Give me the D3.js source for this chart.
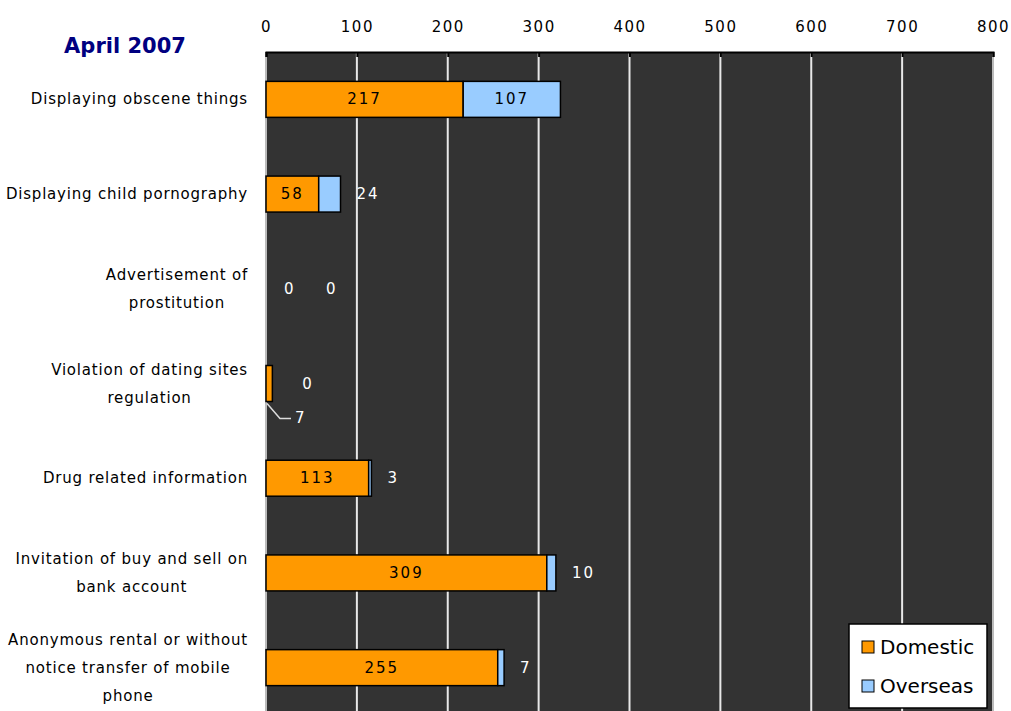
<!DOCTYPE html>
<html>
<head>
<meta charset="utf-8">
<script src="https://cdn.jsdelivr.net/npm/d3@7"></script>
<style>
body{margin:0;background:#fff}
svg text{font-family:"DejaVu Sans",sans-serif}
</style>
</head>
<body>
<div id="chart"></div>
<script>
let categories = [
    "Displaying obscene things",
    "Displaying child pornography",
    "Advertisement of\nprostitution",
    "Violation of dating sites\nregulation",
    "Drug related information",
    "Invitation of buy and sell on\nbank account",
    "Anonymous rental or without\nnotice transfer of mobile\nphone"
]
let domestic = [217, 58, 0, 7, 113, 309, 255]
let overseas = [107, 24, 0, 0, 3, 10, 7]
let xTicks = [0, 100, 200, 300, 400, 500, 600, 700, 800]
let seriesNames = ["Domestic", "Overseas"]
let colors = ["#ff9900", "#99ccff"]

function drawChart(){
    let W = 1011, H = 711
    let margin = {top: 52, left: 266, right: 18}
    let svg = d3.select('#chart').append('svg')
        .attr('width', W).attr('height', H)

    let scX = d3.scaleLinear().domain([0, 800]).range([margin.left, W - margin.right])
    let scY = d3.scaleBand().domain(categories)
        .range([margin.top, margin.top + 663])
        .paddingInner(0.62).paddingOuter(0.31)

    // plot background
    svg.append('rect')
        .attr('x', scX(0)).attr('y', margin.top)
        .attr('width', scX(800) - scX(0)).attr('height', H - margin.top + 5)
        .attr('fill', '#333333')

    // grid
    svg.append('g').selectAll('line')
        .data(xTicks.slice(1, -1))
        .enter().append('line')
        .attr('x1', d=>scX(d)).attr('x2', d=>scX(d))
        .attr('y1', margin.top).attr('y2', H)
        .attr('stroke', '#e8e8e8').attr('stroke-width', 2)

    // borders
    svg.append('line').attr('x1', scX(0)).attr('x2', scX(0))
        .attr('y1', margin.top).attr('y2', H)
        .attr('stroke', '#bbbbbb').attr('stroke-width', 2)
    svg.append('line').attr('x1', scX(800)).attr('x2', scX(800))
        .attr('y1', margin.top).attr('y2', H)
        .attr('stroke', '#bbbbbb').attr('stroke-width', 2)

    // top axis
    let axis = d3.axisTop(scX).tickValues(xTicks).tickSize(-5).tickPadding(20)
    let ax = svg.append('g')
        .attr('transform', `translate(0, ${margin.top})`)
        .call(axis)
    ax.select('.domain').attr('stroke', '#000').attr('stroke-width', 2)
    ax.selectAll('.tick line').attr('stroke', '#000').attr('stroke-width', 2)
    ax.selectAll('.tick text')
        .attr('font-size', '15px').attr('fill', '#000')
        .attr('letter-spacing', '1.5px')
        .attr('font-family', '"DejaVu Sans", sans-serif')

    // title
    svg.append('text')
        .attr('x', 125).attr('y', 53)
        .attr('text-anchor', 'middle')
        .attr('font-size', '21px').attr('font-weight', 'bold')
        .attr('fill', '#000080')
        .text('April 2007')

    // bars
    let bh = scY.bandwidth()
    let g = svg.append('g')
    categories.forEach((c, i)=>{
        let y = scY(c)
        if (domestic[i] > 0) {
            g.append('rect')
                .attr('x', scX(0)).attr('y', y)
                .attr('width', scX(domestic[i]) - scX(0)).attr('height', bh)
                .attr('fill', colors[0]).attr('stroke', '#000').attr('stroke-width', 1.5)
        }
        if (overseas[i] > 0) {
            g.append('rect')
                .attr('x', scX(domestic[i])).attr('y', y)
                .attr('width', scX(domestic[i] + overseas[i]) - scX(domestic[i])).attr('height', bh)
                .attr('fill', colors[1]).attr('stroke', '#000').attr('stroke-width', 1.5)
        }
    })

    // value labels
    let lab = svg.append('g').attr('font-size', '15px').attr('letter-spacing', '2px')
    categories.forEach((c, i)=>{
        let cy = scY(c) + bh / 2 + 5
        let dW = scX(domestic[i]) - scX(0)
        let oW = scX(domestic[i] + overseas[i]) - scX(domestic[i])
        let outX = scX(domestic[i] + overseas[i]) + 16
        if (dW > 30) {
            lab.append('text')
                .attr('x', scX(domestic[i] / 2)).attr('y', cy)
                .attr('text-anchor', 'middle').attr('fill', '#000')
                .text(domestic[i])
        } else if (domestic[i] > 0) {
            // small value: leader line below the bar
            let x0 = scX(0) + 1, y0 = scY(c) + bh
            lab.append('path')
                .attr('d', `M${x0},${y0 + 2}L${x0 + 13},${y0 + 17}L${x0 + 24},${y0 + 17}`)
                .attr('fill', 'none').attr('stroke', '#ddd').attr('stroke-width', 1.5)
            lab.append('text')
                .attr('x', x0 + 28).attr('y', y0 + 22)
                .attr('fill', '#fff')
                .text(domestic[i])
        } else {
            lab.append('text')
                .attr('x', outX + 2).attr('y', cy)
                .attr('fill', '#fff')
                .text(domestic[i])
            outX += 44
        }
        if (oW > 30) {
            lab.append('text')
                .attr('x', scX(domestic[i] + overseas[i] / 2)).attr('y', cy)
                .attr('text-anchor', 'middle').attr('fill', '#000')
                .text(overseas[i])
        } else {
            lab.append('text')
                .attr('x', outX + (dW > 0 && dW <= 30 ? 14 : 0)).attr('y', cy)
                .attr('fill', '#fff')
                .text(overseas[i])
        }
    })

    // category labels
    let cat = svg.append('g').attr('font-size', '15px').attr('letter-spacing', '0.8px')
    categories.forEach((c, i)=>{
        let lines = c.split('\n')
        let lh = 28
        let cy = scY(c) + bh / 2
        let y0 = cy - (lines.length - 1) * lh / 2 + 5
        let texts = lines.map((l, k)=>cat.append('text')
            .attr('y', y0 + k * lh)
            .attr('text-anchor', 'middle')
            .attr('fill', '#000')
            .text(l))
        let maxW = d3.max(texts, t=>t.node().getComputedTextLength())
        texts.forEach(t=>t.attr('x', 248 - maxW / 2))
    })

    // legend
    let lg = svg.append('g').attr('transform', 'translate(849, 624)')
    lg.append('rect').attr('width', 138).attr('height', 84)
        .attr('fill', '#fff').attr('stroke', '#000').attr('stroke-width', 1.5)
    seriesNames.forEach((s, i)=>{
        lg.append('rect')
            .attr('x', 13).attr('y', 17 + i * 39)
            .attr('width', 12).attr('height', 12)
            .attr('fill', colors[i]).attr('stroke', '#000').attr('stroke-width', 1)
        lg.append('text')
            .attr('x', 31).attr('y', 30 + i * 39)
            .attr('font-size', '20px').attr('fill', '#000')
            .text(s)
    })
}
drawChart()
</script>
</body>
</html>
